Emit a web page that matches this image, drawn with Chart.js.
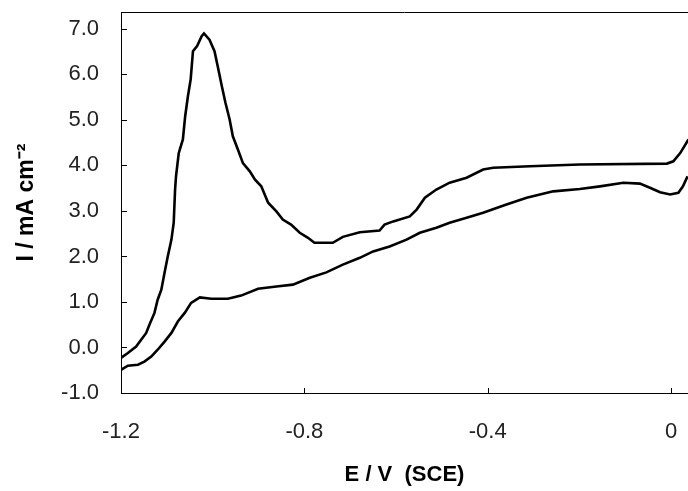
<!DOCTYPE html>
<html>
<head>
<meta charset="utf-8">
<script src="https://cdn.jsdelivr.net/npm/chart.js@4/dist/chart.umd.min.js"></script>
<style>
  html, body { margin: 0; padding: 0; background: #fff; }
  #wrap { width: 688px; height: 491px; position: relative; }
</style>
</head>
<body>
<div id="wrap"><canvas id="cv"></canvas></div>
<script>
// anodic branch (upper curve), potential E / V and current I / mA cm-2
var eUpper = [-1.200, -1.185, -1.167, -1.156, -1.145, -1.138, -1.127, -1.120, -1.112, -1.105, -1.098, -1.090, -1.085, -1.082, -1.080, -1.074, -1.065, -1.060, -1.054, -1.048, -1.043, -1.034, -1.024, -1.019, -1.007, -0.996, -0.989, -0.980, -0.972, -0.963, -0.956, -0.945, -0.934, -0.919, -0.908, -0.894, -0.879, -0.861, -0.847, -0.829, -0.810, -0.792, -0.778, -0.738, -0.716, -0.679, -0.636, -0.625, -0.606, -0.570, -0.555, -0.537, -0.512, -0.483, -0.446, -0.410, -0.388, -0.308, -0.199, -0.009, 0.005, 0.020, 0.038];
var iUpper = [-0.23, -0.12, 0.02, 0.17, 0.32, 0.50, 0.76, 1.05, 1.27, 1.64, 2.00, 2.37, 2.74, 3.47, 3.76, 4.27, 4.57, 5.08, 5.52, 5.89, 6.51, 6.62, 6.84, 6.90, 6.76, 6.51, 6.18, 5.74, 5.37, 5.01, 4.64, 4.35, 4.05, 3.87, 3.69, 3.54, 3.18, 2.99, 2.81, 2.70, 2.52, 2.41, 2.30, 2.30, 2.43, 2.53, 2.57, 2.70, 2.77, 2.88, 3.03, 3.29, 3.47, 3.62, 3.73, 3.91, 3.95, 3.98, 4.02, 4.04, 4.09, 4.27, 4.57];

// cathodic branch (lower curve)
var eLower = [-1.200, -1.185, -1.163, -1.149, -1.134, -1.120, -1.105, -1.090, -1.076, -1.061, -1.047, -1.028, -1.003, -0.967, -0.938, -0.901, -0.861, -0.825, -0.788, -0.752, -0.716, -0.679, -0.650, -0.614, -0.577, -0.548, -0.512, -0.483, -0.446, -0.410, -0.373, -0.359, -0.315, -0.257, -0.199, -0.155, -0.104, -0.068, -0.046, -0.024, -0.002, 0.016, 0.026, 0.036];
var iLower = [-0.49, -0.40, -0.38, -0.31, -0.20, -0.05, 0.13, 0.32, 0.57, 0.76, 0.98, 1.10, 1.07, 1.07, 1.14, 1.29, 1.34, 1.38, 1.53, 1.65, 1.82, 1.97, 2.11, 2.22, 2.37, 2.52, 2.63, 2.74, 2.85, 2.96, 3.09, 3.14, 3.29, 3.43, 3.48, 3.54, 3.62, 3.60, 3.51, 3.41, 3.36, 3.40, 3.54, 3.76];

var xTicks = [-1.2, -0.8, -0.4, 0];
var yTicks = [-1, 0, 1, 2, 3, 4, 5, 6, 7];

function toPoints(xs, ys) {
    return xs.map(function(x, i) { return {x: x, y: ys[i]}; });
}

var FONT = "'Liberation Sans', Arial, sans-serif";

// inner tick marks and the top frame line
var frame = {
    id: 'frame',
    afterDraw: function(chart) {
        var ctx = chart.ctx, a = chart.chartArea;
        var xs = chart.scales.x, ys = chart.scales.y;
        ctx.save();
        ctx.strokeStyle = '#000';
        ctx.lineWidth = 1;
        ctx.beginPath();
        ctx.moveTo(a.left, a.top + 0.5);
        ctx.lineTo(a.right, a.top + 0.5);
        yTicks.forEach(function(v) {
            var y = Math.round(ys.getPixelForValue(v)) + 0.5;
            ctx.moveTo(a.left, y);
            ctx.lineTo(a.left + 6, y);
        });
        xTicks.forEach(function(v) {
            var x = Math.round(xs.getPixelForValue(v)) + 0.5;
            ctx.moveTo(x, a.bottom);
            ctx.lineTo(x, a.bottom - 5);
        });
        ctx.stroke();
        ctx.restore();
    }
};

function noPad(scale) {
    scale.paddingLeft = 0;
    scale.paddingRight = 0;
    scale.paddingTop = 0;
    scale.paddingBottom = 0;
}

var config = {
    type: 'scatter',
    data: {
        datasets: [{
            label: 'anodic',
            data: toPoints(eUpper, iUpper),
            showLine: true,
            borderColor: '#000',
            borderWidth: 2.6,
            pointRadius: 0,
            tension: 0
        }, {
            label: 'cathodic',
            data: toPoints(eLower, iLower),
            showLine: true,
            borderColor: '#000',
            borderWidth: 2.6,
            pointRadius: 0,
            tension: 0
        }]
    },
    options: {
        responsive: true,
        maintainAspectRatio: false,
        animation: false,
        layout: { padding: { top: 12, right: 0, bottom: 0, left: 0 } },
        plugins: {
            legend: { display: false },
            tooltip: { enabled: false }
        },
        scales: {
            x: {
                type: 'linear',
                min: -1.2,
                max: 0.037,
                afterBuildTicks: function(scale) {
                    scale.ticks = xTicks.map(function(v) { return {value: v}; });
                },
                afterFit: function(scale) { scale.height = 98; noPad(scale); },
                grid: { display: false, drawTicks: false },
                border: { display: true, color: '#000', width: 1 },
                ticks: {
                    autoSkip: false,
                    maxRotation: 0,
                    padding: 26,
                    color: '#222',
                    font: { family: FONT, size: 22 },
                    callback: function(v) { return v === 0 ? '0' : v.toFixed(1); }
                },
                title: {
                    display: true,
                    text: 'E / V  (SCE)',
                    color: '#000',
                    padding: { top: 0, bottom: 3 },
                    font: { family: FONT, size: 22, weight: 'bold' }
                }
            },
            y: {
                type: 'linear',
                min: -1,
                max: 7.37,
                afterBuildTicks: function(scale) {
                    scale.ticks = yTicks.map(function(v) { return {value: v}; });
                },
                afterFit: function(scale) { scale.width = 121; noPad(scale); },
                grid: { display: false, drawTicks: false },
                border: { display: true, color: '#000', width: 1 },
                ticks: {
                    autoSkip: false,
                    padding: 22,
                    color: '#222',
                    font: { family: FONT, size: 22 },
                    callback: function(v) { return v.toFixed(1); }
                },
                title: {
                    display: true,
                    text: 'I / mA cm\u207B\u00B2',
                    color: '#000',
                    padding: { top: 13, bottom: 0 },
                    font: { family: FONT, size: 23, weight: 'bold' }
                }
            }
        }
    },
    plugins: [frame]
};

var ctx = document.getElementById('cv').getContext('2d');
window.cvChart = new Chart(ctx, config);
</script>
</body>
</html>
